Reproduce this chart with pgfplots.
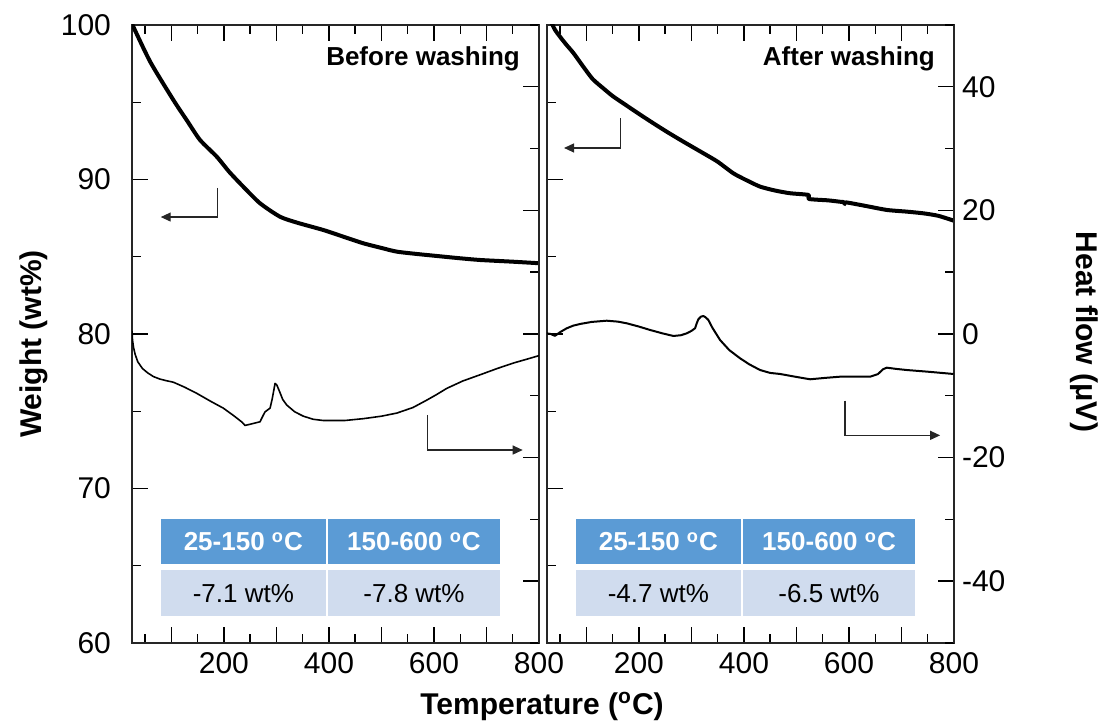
\documentclass[border=0pt]{standalone}
\usepackage{fontspec}
\setmainfont{Liberation Sans}
\usepackage{pgfplots}
\usepackage{pgfplotstable}
\pgfplotsset{compat=1.18}
\usetikzlibrary{arrows.meta}

\definecolor{hdr}{HTML}{5B9BD5}
\definecolor{row}{HTML}{D0DCEE}

\pgfplotstableread{
x y
25 100.1
27.5 99.89
60 97.6
103.7 95.15
130 93.8
154.5 92.56
186.3 91.48
210 90.5
237 89.53
268.8 88.46
306.9 87.59
340 87.2
389.4 86.73
430 86.27
465.6 85.87
500 85.57
529.2 85.33
570 85.17
605.4 85.05
650 84.9
687.9 84.79
750 84.68
800 84.58
}\wbefore

\pgfplotstableread{
x y
25 0.5
26 -1.0
28 -2.2
31 -3.3
36 -4.5
45 -5.6
55 -6.3
66 -6.9
78.3 -7.3
90 -7.55
103.7 -7.8
125 -8.6
148.2 -9.6
175 -10.9
198.9 -12.0
220 -13.3
235 -14.3
240.2 -14.8
255 -14.5
268.8 -14.2
274 -13.3
278.3 -12.6
287.9 -12.0
292 -10.5
297.4 -8.0
301 -8.3
306.9 -9.5
312 -10.6
319.7 -11.5
335 -12.6
351.3 -13.3
370 -13.8
389.4 -14.0
430 -14.0
465.6 -13.7
500 -13.3
529.2 -12.8
560 -11.9
586.3 -10.7
605 -9.8
624.4 -8.8
655 -7.6
687.9 -6.6
720 -5.6
751.3 -4.7
780 -4.0
800 -3.5
}\hbefore

\pgfplotstableread{
x y
25 100.8
40 99.7
60 98.8
75 98.2
94.1 97.30
112 96.5
132.2 95.90
150 95.4
170.3 94.93
200 94.25
227.5 93.64
255 93.05
284.6 92.45
322.7 91.70
350 91.15
379.9 90.40
405 89.95
430.7 89.54
460 89.28
487.9 89.11
522.7 89.00
524 88.74
560 88.65
583 88.56
590 88.54
592 88.40
594 88.52
630 88.30
672 88.03
710 87.92
741.8 87.81
770 87.65
800 87.33
}\wafter

\pgfplotstableread{
x y
25 0.1
32 0.0
40.2 -0.3
50 0.3
62.5 0.92
75 1.35
87.9 1.62
110 1.95
138.7 2.15
160 2.0
176.8 1.73
200 1.2
221.2 0.65
245 0.1
265.6 -0.32
280 -0.2
291.1 0.11
300 0.5
306.9 0.92
310 1.7
313.2 2.38
318 2.8
322.7 2.91
327 2.7
332.2 2.27
340 1.0
354.5 -0.97
372 -2.6
392.6 -3.93
410 -4.9
430.7 -5.83
450 -6.3
468.8 -6.47
500 -6.95
526 -7.33
555 -7.1
583.1 -6.91
610 -6.9
640.2 -6.91
655 -6.5
665 -5.7
672 -5.45
690 -5.65
710.1 -5.83
750 -6.1
799 -6.47
}\hafter

\tikzset{
  arr/.style={black!85, line width=0.6pt, -{Triangle[length=5pt,width=4.5pt]}},
}

\pgfplotsset{
  panel/.style={
    width=203.5pt, height=309pt, scale only axis,
    anchor=south west,
    xmin=25, xmax=800,
    xtick={100,200,...,800},
    xticklabels={,200,,400,,600,,800},
    minor xtick={50,150,...,750},
    tick align=inside,
    major tick length=8pt, minor tick length=4.5pt,
    every tick/.style={black, line width=0.7pt},
    axis line style={line width=0.8pt, black!85},
    tick label style={font=\fontsize{15}{18}\selectfont},
    /pgf/number format/assume math mode=true,
    xticklabel shift=1pt,
  },
  wpanel/.style={
    panel,
    ymin=60, ymax=100,
    ytick={60,70,...,100},
    minor ytick={65,75,...,95},
    ytick pos=left,
  },
  hpanel/.style={
    panel,
    axis x line=none,
    axis y line*=right,
    ymin=-50, ymax=50,
    ytick={-40,-20,...,40},
    minor ytick={-50,-30,...,50},
  },
  wcurve/.style={black, line width=2pt, line join=round, no marks, smooth, tension=0.4},
  hcurve/.style={black, line width=0.8pt, line join=round, no marks},
}

\newcommand{\tablebox}[4]{%
  \fill[hdr] (axis cs:79.7,65.1) rectangle (axis cs:394.5,68.0);
  \fill[hdr] (axis cs:397.8,65.1) rectangle (axis cs:726,68.0);
  \fill[row] (axis cs:79.7,61.75) rectangle (axis cs:394.5,64.7);
  \fill[row] (axis cs:397.8,61.75) rectangle (axis cs:726,64.7);
  \node[white, font=\bfseries\fontsize{13}{15}\selectfont] at (axis cs:237,66.55) {#1};
  \node[white, font=\bfseries\fontsize{13}{15}\selectfont] at (axis cs:562,66.55) {#2};
  \node[black, font=\fontsize{13}{15}\selectfont] at (axis cs:237,63.2) {#3};
  \node[black, font=\fontsize{13}{15}\selectfont] at (axis cs:562,63.2) {#4};
}

\begin{document}
\begin{tikzpicture}
\useasboundingbox (0,0) rectangle (551pt,361pt);

% ---------- left panel ----------
\begin{axis}[wpanel, at={(66pt,39.5pt)}, yticklabel shift=7pt]
  \tablebox{25-150 \textsuperscript{o}C}{150-600 \textsuperscript{o}C}{-7.1 wt\%}{-7.8 wt\%}
  \addplot[wcurve] table {\wbefore};
  \draw[arr] (axis cs:188,89.45) -- (axis cs:188,87.57) -- (axis cs:79.7,87.57);
  \draw[arr] (axis cs:587.5,74.76) -- (axis cs:587.5,72.49) -- (axis cs:769,72.49);
  \node[anchor=base east, font=\bfseries\fontsize{13}{15}\selectfont] at (axis cs:777,97.41) {Before washing};
\end{axis}
\begin{axis}[hpanel, at={(66pt,39.5pt)}, yticklabels={}]
  \addplot[hcurve] table {\hbefore};
\end{axis}

% ---------- right panel ----------
\begin{axis}[wpanel, at={(273.5pt,39.5pt)}, yticklabels={}]
  \tablebox{25-150 \textsuperscript{o}C}{150-600 \textsuperscript{o}C}{-4.7 wt\%}{-6.5 wt\%}
  \addplot[wcurve] table {\wafter};
  \draw[arr] (axis cs:165,93.98) -- (axis cs:165,92.04) -- (axis cs:57.4,92.04);
  \draw[arr] (axis cs:592.6,75.68) -- (axis cs:592.6,73.44) -- (axis cs:773.6,73.44);
  \node[anchor=base east, font=\bfseries\fontsize{13}{15}\selectfont] at (axis cs:777,97.41) {After washing};
\end{axis}
\begin{axis}[hpanel, at={(273.5pt,39.5pt)}, yticklabel shift=0.5pt]
  \addplot[hcurve, line width=1pt] table {\hafter};
\end{axis}

% ---------- axis titles ----------
\node[rotate=90, font=\bfseries\fontsize{15}{18}\selectfont] at (17pt,189pt) {Weight (wt\%)};
\node[rotate=-90, font=\bfseries\fontsize{15}{18}\selectfont] at (542pt,195pt) {Heat flow (μV)};
\node[anchor=base, font=\bfseries\fontsize{15}{18}\selectfont] at (271pt,3.8pt) {Temperature (\textsuperscript{o}C)};
\end{tikzpicture}
\end{document}
